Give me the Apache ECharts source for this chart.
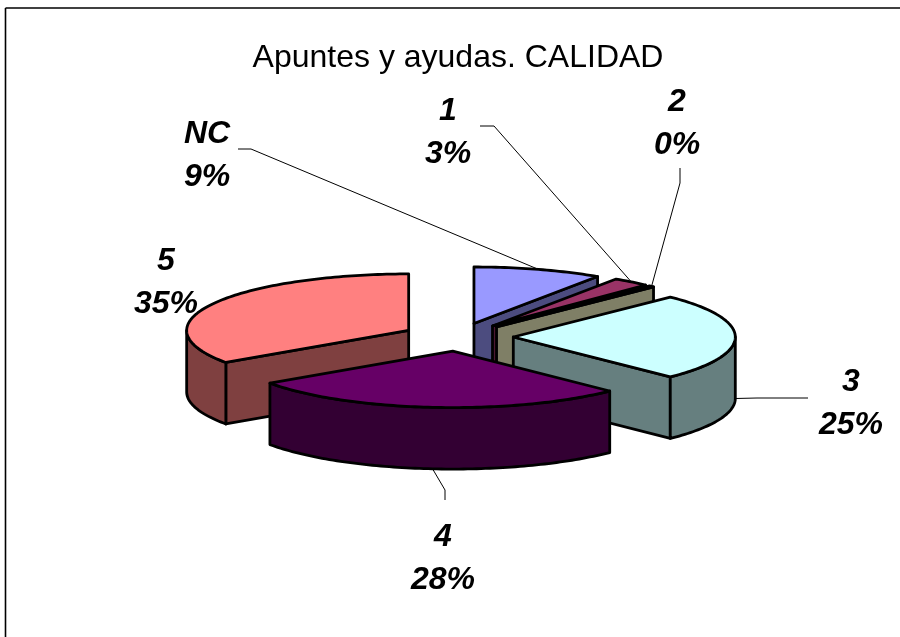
<!DOCTYPE html>
<html>
<head>
<meta charset="utf-8">
<title>Apuntes y ayudas. CALIDAD</title>
<style>
html, body { margin: 0; padding: 0; background: #fff; }
#main { width: 900px; height: 637px; }
</style>
<script src="https://cdn.jsdelivr.net/npm/echarts@6/dist/echarts.min.js"></script>
</head>
<body>
<div id="main"></div>
<script>
// data
var categories = ['NC', '1', '2', '3', '4', '5'];
var values = [9.4, 2.7, 0.4, 25, 27.9, 34.6];

// colours: top face / side face
var topColors = ['#9999FF', '#993366', '#FFFFCC', '#CCFFFF', '#660066', '#FF8080'];
var sideColors = ['#4C4C7F', '#4C1933', '#7F7F66', '#667F7F', '#330033', '#7F4040'];

// pie layout
var centerX = 457.8, centerY = 337;
var radiusX = 222, radiusY = 56.5;
var depth = 61.5;
var explode = 55.5;

// label centres and leader lines (knee, then end next to the label)
var labelPos = [[207, 156], [448, 133], [677, 124], [851, 404], [443, 559], [166, 283]];
var leaders = [
    [[251, 149], [238, 149]],
    [[494, 126], [480, 126]],
    [[680, 183], [680, 168]],
    [[757, 398], [808, 398]],
    [[445, 490], [445, 500]],
    null
];
var labelFont = 'italic bold 32px "Liberation Sans", Arial, sans-serif';

var total = values.reduce(function (a, b) { return a + b; }, 0);

// start / end angle of each slice, clockwise from the top, in radians
var angles = [];
var run = 0;
values.forEach(function (v) {
    var a = run / total * Math.PI * 2;
    run += v;
    angles.push([a, run / total * Math.PI * 2]);
});

function rim(apex, t, dz) {
    return [apex[0] + radiusX * Math.sin(t), apex[1] - radiusY * Math.cos(t) + (dz || 0)];
}

function arcPoints(apex, t0, t1, dz) {
    var pts = [];
    var steps = Math.max(2, Math.ceil((t1 - t0) / 0.02));
    for (var i = 0; i <= steps; i++) {
        pts.push(rim(apex, t0 + (t1 - t0) * i / steps, dz));
    }
    return pts;
}

function face(points, fill, z2) {
    return {
        type: 'polygon',
        z2: z2,
        shape: { points: points },
        style: { fill: fill, stroke: '#000', lineWidth: 2.8, lineJoin: 'round' }
    };
}

function cutFace(apex, t, fill, z2) {
    var p = rim(apex, t);
    return face([apex, p, [p[0], p[1] + depth], [apex[0], apex[1] + depth]], fill, z2);
}

function renderSlice(params, api) {
    var i = api.value(0);
    var a = angles[i][0], b = angles[i][1];
    var mid = (a + b) / 2;
    var apex = [
        centerX + explode * Math.sin(mid),
        centerY - explode * radiusY / radiusX * Math.cos(mid)
    ];
    // painter's order: far slices first
    var z2 = Math.round(100 * (1 - Math.cos(mid)));
    var children = [];

    if (Math.sin(a) < -1e-6) children.push(cutFace(apex, a, sideColors[i], z2));
    if (Math.sin(b) > 1e-6) children.push(cutFace(apex, b, sideColors[i], z2));

    // curved wall, only the part that faces the viewer
    var f0 = Math.max(a, Math.PI / 2), f1 = Math.min(b, Math.PI * 1.5);
    if (f1 > f0) {
        var wall = arcPoints(apex, f0, f1, 0).concat(arcPoints(apex, f0, f1, depth).reverse());
        children.push(face(wall, sideColors[i], z2));
    }

    children.push(face([apex].concat(arcPoints(apex, a, b, 0)), topColors[i], z2));

    // leader line, starts on the rim at the middle of the slice
    if (leaders[i]) {
        var from = rim(apex, mid, Math.cos(mid) < 1e-6 ? depth : 0);
        children.push({
            type: 'polyline',
            z2: 1000,
            shape: { points: [from].concat(leaders[i]) },
            style: { fill: null, stroke: '#000', lineWidth: 1 }
        });
    }

    // two line label: name and percent
    var pos = labelPos[i];
    var lines = [categories[i], Math.round(values[i] / total * 100) + '%'];
    lines.forEach(function (txt, k) {
        children.push({
            type: 'text',
            z2: 1001,
            style: {
                x: pos[0],
                y: pos[1] + (k === 0 ? -22 : 21),
                text: txt,
                font: labelFont,
                fill: '#000',
                align: 'center',
                verticalAlign: 'middle'
            }
        });
    });

    return { type: 'group', children: children };
}

var myChart = echarts.init(document.getElementById('main'), null, { renderer: 'canvas' });
var option = {
    backgroundColor: '#fff',
    animation: false,
    title: {
        text: 'Apuntes y ayudas. CALIDAD',
        left: 453,
        top: 37,
        textAlign: 'center',
        textStyle: {
            color: '#000',
            fontFamily: '"Liberation Sans", Arial, sans-serif',
            fontWeight: 'normal',
            fontSize: 32
        }
    },
    // frame: only top and left edges show in the picture
    graphic: [
        { type: 'line', shape: { x1: 5.5, y1: 8, x2: 900, y2: 8 }, style: { stroke: '#000', lineWidth: 1.6 } },
        { type: 'line', shape: { x1: 5.5, y1: 8, x2: 5.5, y2: 637 }, style: { stroke: '#000', lineWidth: 1.6 } }
    ],
    series: [{
        type: 'custom',
        coordinateSystem: 'none',
        silent: true,
        renderItem: renderSlice,
        data: categories.map(function (c, i) { return [i]; })
    }]
};
myChart.setOption(option);
</script>
</body>
</html>
